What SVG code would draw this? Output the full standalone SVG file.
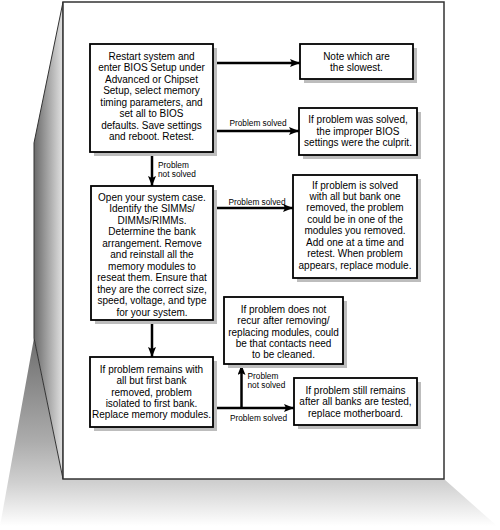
<svg xmlns="http://www.w3.org/2000/svg" width="500" height="530" viewBox="0 0 500 530">
<defs>
<linearGradient id="panelGrad" gradientUnits="userSpaceOnUse" x1="34" y1="0" x2="63" y2="0">
<stop offset="0" stop-color="#6a6a6a"/>
<stop offset="1" stop-color="#e2e2e2"/>
</linearGradient>
<linearGradient id="floorGrad" gradientUnits="userSpaceOnUse" x1="0" y1="338" x2="0" y2="526">
<stop offset="0" stop-color="#6e6e6e"/>
<stop offset="0.55" stop-color="#acacac"/>
<stop offset="0.77" stop-color="#d0d0d0"/>
<stop offset="1" stop-color="#ffffff"/>
</linearGradient>
<marker id="arr" markerUnits="userSpaceOnUse" markerWidth="10" markerHeight="8" viewBox="0 0 10 8" refX="10" refY="4" orient="auto">
<path d="M0,0 L10,4 L0,8 L2,4 z" fill="#000"/>
</marker>
</defs>
<style>
.box{fill:#fff;stroke:#000;stroke-width:1.8}
.shadow{fill:#bdbdbd}
.t{font-family:"Liberation Sans",Arial,sans-serif;font-size:10px;fill:#000;text-anchor:middle}
.lbl{font-family:"Liberation Sans",Arial,sans-serif;font-size:8.3px;fill:#000}
.c{fill:none;stroke:#000;stroke-width:2.5}
</style>

<g id="background">
<polygon points="34,338 63,479 444,479 497,526 0,526" fill="url(#floorGrad)"/>
<polygon points="63,2 34,143 34,338 63,479" fill="url(#panelGrad)" stroke="#333" stroke-width="1"/>
<rect x="63" y="2" width="381" height="477" fill="#fff" stroke="#333" stroke-width="1.5"/>
</g>

<g id="connectors">
<path class="c" d="M213,63 H300" marker-end="url(#arr)"/>
<path class="c" d="M213,131 H299" marker-end="url(#arr)"/>
<path class="c" d="M152,152 V186" marker-end="url(#arr)"/>
<path class="c" d="M213,208 H293" marker-end="url(#arr)"/>
<path class="c" d="M152,320 V357" marker-end="url(#arr)"/>
<path class="c" d="M213,408 H294" marker-end="url(#arr)"/>
<path class="c" d="M241.5,408 V365" marker-end="url(#arr)"/>
<text class="lbl" x="258" y="126.3" text-anchor="middle">Problem solved</text>
<text class="lbl" x="257" y="204.7" text-anchor="middle">Problem solved</text>
<text class="lbl" x="258.5" y="420.7" text-anchor="middle">Problem solved</text>
<text class="lbl" x="158" y="168">Problem</text>
<text class="lbl" x="158" y="177">not solved</text>
<text class="lbl" x="247.5" y="378.7">Problem</text>
<text class="lbl" x="247.5" y="388">not solved</text>
</g>

<g id="node-restart">
<rect class="shadow" x="94" y="48" width="123" height="108"/>
<rect class="box" x="90" y="44" width="123" height="108"/>
<text class="t" x="151.5" y="59.5">Restart system and</text>
<text class="t" x="151.5" y="71">enter BIOS Setup under</text>
<text class="t" x="151.5" y="82.5">Advanced or Chipset</text>
<text class="t" x="151.5" y="94">Setup, select memory</text>
<text class="t" x="151.5" y="105.5">timing parameters, and</text>
<text class="t" x="151.5" y="117">set all to BIOS</text>
<text class="t" x="151.5" y="128.5">defaults. Save settings</text>
<text class="t" x="151.5" y="140">and reboot. Retest.</text>
</g>

<g id="node-note">
<rect class="shadow" x="304" y="48" width="113" height="35"/>
<rect class="box" x="300" y="44" width="113" height="35"/>
<text class="t" x="356.5" y="59.5">Note which are</text>
<text class="t" x="356.5" y="71">the slowest.</text>
</g>

<g id="node-bios-culprit">
<rect class="shadow" x="303" y="112" width="118" height="47"/>
<rect class="box" x="299" y="108" width="118" height="47"/>
<text class="t" x="358" y="123">If problem was solved,</text>
<text class="t" x="358" y="134.5">the improper BIOS</text>
<text class="t" x="358" y="146">settings were the culprit.</text>
</g>

<g id="node-open-case">
<rect class="shadow" x="95" y="190" width="122" height="134"/>
<rect class="box" x="91" y="186" width="122" height="134"/>
<text class="t" x="152" y="200.8">Open your system case.</text>
<text class="t" x="152" y="212.3">Identify the SIMMs/</text>
<text class="t" x="152" y="223.8">DIMMs/RIMMs.</text>
<text class="t" x="152" y="235.3">Determine the bank</text>
<text class="t" x="152" y="246.8">arrangement. Remove</text>
<text class="t" x="152" y="258.3">and reinstall all the</text>
<text class="t" x="152" y="269.8">memory modules to</text>
<text class="t" x="152" y="281.3">reseat them. Ensure that</text>
<text class="t" x="152" y="292.8">they are the correct size,</text>
<text class="t" x="152" y="304.3">speed, voltage, and type</text>
<text class="t" x="152" y="315.8">for your system.</text>
</g>

<g id="node-bank-one">
<rect class="shadow" x="297" y="179" width="124" height="103"/>
<rect class="box" x="293" y="175" width="124" height="103"/>
<text class="t" x="355" y="188.5">If problem is solved</text>
<text class="t" x="355" y="199.9">with all but bank one</text>
<text class="t" x="355" y="211.4">removed, the problem</text>
<text class="t" x="355" y="222.8">could be in one of the</text>
<text class="t" x="355" y="234.2">modules you removed.</text>
<text class="t" x="355" y="245.6">Add one at a time and</text>
<text class="t" x="355" y="257.1">retest. When problem</text>
<text class="t" x="355" y="268.5">appears, replace module.</text>
</g>

<g id="node-first-bank">
<rect class="shadow" x="94" y="361" width="123" height="70"/>
<rect class="box" x="90" y="357" width="123" height="70"/>
<text class="t" x="151.5" y="372.8">If problem remains with</text>
<text class="t" x="151.5" y="384.2">all but first bank</text>
<text class="t" x="151.5" y="395.6">removed, problem</text>
<text class="t" x="151.5" y="407">isolated to first bank.</text>
<text class="t" x="151.5" y="418.4">Replace memory modules.</text>
</g>

<g id="node-contacts">
<rect class="shadow" x="228" y="301" width="119" height="67"/>
<rect class="box" x="224" y="297" width="119" height="67"/>
<text class="t" x="283.5" y="312.8">If problem does not</text>
<text class="t" x="283.5" y="324.2">recur after removing/</text>
<text class="t" x="283.5" y="335.6">replacing modules, could</text>
<text class="t" x="283.5" y="347">be that contacts need</text>
<text class="t" x="283.5" y="358.4">to be cleaned.</text>
</g>

<g id="node-motherboard">
<rect class="shadow" x="298" y="382" width="123" height="47"/>
<rect class="box" x="294" y="378" width="123" height="47"/>
<text class="t" x="355.5" y="393.5">If problem still remains</text>
<text class="t" x="355.5" y="405">after all banks are tested,</text>
<text class="t" x="355.5" y="416.5">replace motherboard.</text>
</g>
</svg>
